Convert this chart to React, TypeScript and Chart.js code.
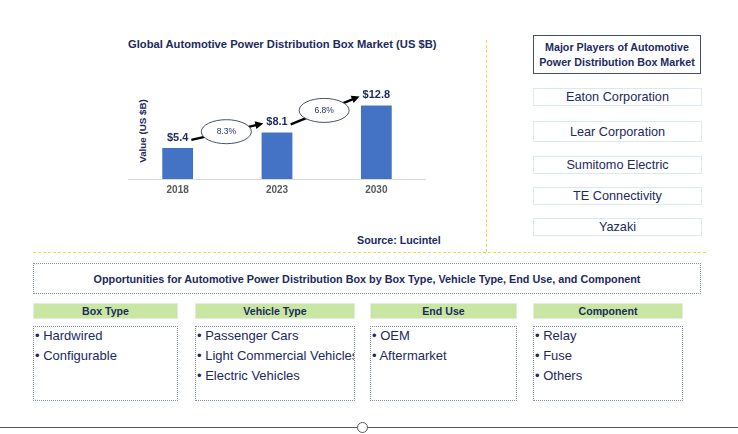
import React, { useEffect, useRef } from "react";
import { Chart, registerables } from "chart.js";

Chart.register(...registerables);

const years = ["2018", "2023", "2030"];
const marketValues = [5.4, 8.1, 12.8];
const cagrLabels = ["8.3%", "6.8%"];
const players = ["Eaton Corporation", "Lear Corporation", "Sumitomo Electric", "TE Connectivity", "Yazaki"];
const segmentTitles = ["Box Type", "Vehicle Type", "End Use", "Component"];
const boxTypes = ["Hardwired", "Configurable"];
const vehicleTypes = ["Passenger Cars", "Light Commercial Vehicles", "Electric Vehicles"];
const endUses = ["OEM", "Aftermarket"];
const components = ["Relay", "Fuse", "Others"];

const NAVY = "#1c2a5e";
const FONT = 'Arial, "Liberation Sans", sans-serif';

const annotPlugin = {
  id: "annot",
  afterDatasetsDraw(chart: any) {
    const ctx = chart.ctx as CanvasRenderingContext2D;
    const meta = chart.getDatasetMeta(0);
    ctx.save();
    ctx.font = `bold 11px ${FONT}`;
    ctx.fillStyle = NAVY;
    ctx.textAlign = "center";
    ctx.textBaseline = "middle";
    const pts = meta.data.map((bar: any, i: number) => {
      const t = "$" + marketValues[i].toFixed(1);
      const x = bar.x;
      const y = bar.y - 10;
      ctx.fillText(t, x, y);
      return { x, y, w: ctx.measureText(t).width };
    });
    for (let i = 0; i < pts.length - 1; i++) {
      const a = pts[i];
      const b = pts[i + 1];
      const x1 = a.x + a.w / 2 + 3;
      const y1 = a.y + 2;
      const x2 = b.x - b.w / 2 - 3;
      const y2 = b.y + 1;
      const ang = Math.atan2(y2 - y1, x2 - x1);
      ctx.strokeStyle = "#000";
      ctx.lineWidth = 2.4;
      ctx.beginPath();
      ctx.moveTo(x1, y1);
      ctx.lineTo(x2 - 5 * Math.cos(ang), y2 - 5 * Math.sin(ang));
      ctx.stroke();
      ctx.fillStyle = "#000";
      ctx.beginPath();
      ctx.moveTo(x2, y2);
      ctx.lineTo(x2 - 8 * Math.cos(ang) + 4 * Math.sin(ang), y2 - 8 * Math.sin(ang) - 4 * Math.cos(ang));
      ctx.lineTo(x2 - 8 * Math.cos(ang) - 4 * Math.sin(ang), y2 - 8 * Math.sin(ang) + 4 * Math.cos(ang));
      ctx.closePath();
      ctx.fill();
      const mx = (x1 + x2) / 2 - 1;
      const my = (y1 + y2) / 2;
      ctx.beginPath();
      ctx.ellipse(mx, my, 25, 12, 0, 0, Math.PI * 2);
      ctx.fillStyle = "#fff";
      ctx.fill();
      ctx.strokeStyle = "#44506e";
      ctx.lineWidth = 1;
      ctx.stroke();
      ctx.fillStyle = NAVY;
      ctx.font = `8.5px ${FONT}`;
      ctx.fillText(cagrLabels[i], mx, my);
      ctx.font = `bold 11px ${FONT}`;
    }
    ctx.restore();
  },
};

function BarChart() {
  const ref = useRef<HTMLCanvasElement | null>(null);
  useEffect(() => {
    if (!ref.current) return;
    const chart = new Chart(ref.current, {
      type: "bar",
      data: {
        labels: years,
        datasets: [
          {
            data: marketValues,
            backgroundColor: "#4472c4",
            categoryPercentage: 1,
            barPercentage: 0.31,
          },
        ],
      },
      options: {
        animation: false,
        responsive: false,
        maintainAspectRatio: false,
        layout: { padding: { top: 7, bottom: 1, left: 0, right: 0 } },
        plugins: { legend: { display: false }, tooltip: { enabled: false } },
        scales: {
          x: {
            grid: { display: false, drawTicks: false },
            border: { display: true, color: "#d9d9d9", width: 1 },
            ticks: { color: "#595959", font: { family: FONT, size: 10, weight: "bold" }, padding: 5 },
          },
          y: { display: false, min: 0, max: 16 },
        },
      },
      plugins: [annotPlugin],
    });
    return () => chart.destroy();
  }, []);
  return (
    <canvas
      ref={ref}
      width={298}
      height={122}
      style={{ position: "absolute", left: 128, top: 80, width: 298, height: 122 }}
    />
  );
}

function List({ items, left, width }: { items: string[]; left: number; width: number }) {
  return (
    <div
      style={{
        position: "absolute",
        left,
        top: 326,
        width: width - 2,
        height: 73,
        border: "1px dotted #7d8db3",
        overflow: "hidden",
        whiteSpace: "nowrap",
      }}
    >
      {items.map((t, i) => (
        <div key={i} style={{ position: "absolute", left: 1, top: 1 + i * 20, fontSize: 13, lineHeight: "15px", color: NAVY }}>
          • {t}
        </div>
      ))}
    </div>
  );
}

export default function App() {
  const segX = [33, 195, 370, 533];
  const segW = [145, 160, 147, 150];
  const lists = [boxTypes, vehicleTypes, endUses, components];
  const playerTops = [88, 121, 156, 187, 218];
  const playerH = [16, 19, 16, 16, 16];
  return (
    <div
      style={{
        position: "fixed",
        left: 0,
        top: 0,
        width: 738,
        height: 434,
        background: "#fff",
        fontFamily: FONT,
        overflow: "hidden",
      }}
    >
      <div style={{ position: "absolute", left: 128, top: 37, fontSize: 11.2, fontWeight: "bold", color: NAVY, lineHeight: "14px", whiteSpace: "nowrap" }}>
        Global Automotive Power Distribution Box Market (US $B)
      </div>
      <div
        style={{
          position: "absolute",
          left: 142,
          top: 131,
          transform: "translate(-50%, -50%) rotate(-90deg)",
          fontSize: 9.8,
          fontWeight: "bold",
          color: NAVY,
          whiteSpace: "nowrap",
          lineHeight: "11px",
        }}
      >
        Value (US $B)
      </div>
      <BarChart />
      <div style={{ position: "absolute", left: 357, top: 233, fontSize: 10.7, fontWeight: "bold", color: NAVY, lineHeight: "14px", whiteSpace: "nowrap" }}>
        Source: Lucintel
      </div>
      <div style={{ position: "absolute", left: 486, top: 40, height: 212, borderLeft: "1px dashed #ffd34e" }} />
      <div style={{ position: "absolute", left: 33, top: 252, width: 673, borderTop: "1px dashed #ffd34e" }} />

      <div
        style={{
          position: "absolute",
          left: 533,
          top: 35,
          width: 166,
          height: 37,
          border: "1.5px solid #3f4d7d",
          display: "flex",
          alignItems: "center",
          justifyContent: "center",
          textAlign: "center",
          fontSize: 10.7,
          fontWeight: "bold",
          color: NAVY,
          lineHeight: "15px",
        }}
      >
        Major Players of Automotive
        <br />
        Power Distribution Box Market
      </div>
      {players.map((p, i) => (
        <div
          key={p}
          style={{
            position: "absolute",
            left: 533,
            top: playerTops[i],
            width: 167,
            height: playerH[i],
            border: "1px solid #dbe8f6",
            display: "flex",
            alignItems: "center",
            justifyContent: "center",
            fontSize: 12.7,
            color: NAVY,
            whiteSpace: "nowrap",
          }}
        >
          {p}
        </div>
      ))}

      <div
        style={{
          position: "absolute",
          left: 33,
          top: 263,
          width: 666,
          height: 29,
          border: "1px dotted #7d8db3",
          display: "flex",
          alignItems: "center",
          justifyContent: "center",
          fontSize: 10.8,
          fontWeight: "bold",
          color: NAVY,
          whiteSpace: "nowrap",
        }}
      >
        Opportunities for Automotive Power Distribution Box by Box Type, Vehicle Type, End Use, and Component
      </div>
      {segmentTitles.map((t, i) => (
        <div
          key={t}
          style={{
            position: "absolute",
            left: segX[i],
            top: 303,
            width: segW[i] - 2,
            height: 14,
            background: "#c9e7a2",
            border: "1px solid #dfeede",
            display: "flex",
            alignItems: "center",
            justifyContent: "center",
            fontSize: 10.6,
            fontWeight: "bold",
            color: NAVY,
            whiteSpace: "nowrap",
          }}
        >
          {t}
        </div>
      ))}
      {lists.map((l, i) => (
        <List key={i} items={l} left={segX[i]} width={segW[i]} />
      ))}

      <div style={{ position: "absolute", left: 0, top: 427, width: 738, height: 0, borderTop: "1.5px solid #595959" }} />
      <div
        style={{
          position: "absolute",
          left: 357,
          top: 422,
          width: 9,
          height: 9,
          borderRadius: "50%",
          border: "1.7px solid #595959",
          background: "#fff",
        }}
      />
    </div>
  );
}
